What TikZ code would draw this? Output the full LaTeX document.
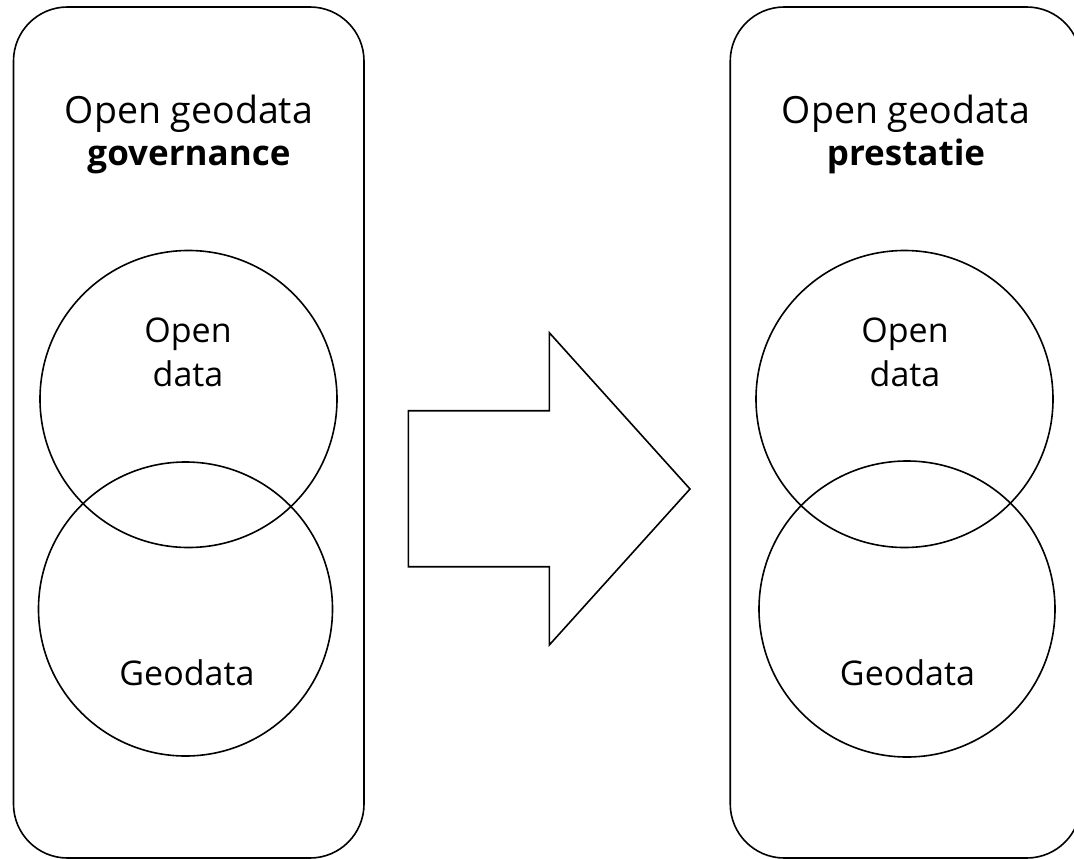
\documentclass[tikz,border=0pt]{standalone}
\usepackage{fontspec}
\setmainfont{Open Sans}
\begin{document}
\begin{tikzpicture}[x=1pt,y=-1pt,
  panel/.style={draw=black, line width=1.6pt, rounded corners=54pt, minimum width=350.5pt, minimum height=851pt, inner sep=0pt},
  ring/.style={draw=black, line width=1.6pt, circle, minimum size=297pt, inner sep=0pt},
  headtext/.style={align=center, inner sep=0pt, anchor=base, font=\fontsize{37.5}{42}\selectfont},
  boldword/.style={},
  ringtext/.style={align=center, inner sep=0pt, anchor=base, font=\fontsize{34}{44}\selectfont},
  bigarrow/.style={draw=black, line width=1.6pt, line join=miter}
]
\clip (0,0) rectangle (1074,859);
% panels
\node[panel] (leftpanel) at (188.75,432.5) {};
\node[panel] (rightpanel) at (905.5,432.5) {};
% circles
\node[ring] (lopen) at (188.5,399) {};
\node[ring, minimum size=294pt] (lgeo) at (185.5,609) {};
\node[ring] (ropen) at (904.5,399) {};
\node[ring, minimum size=296pt] (rgeo) at (907,609) {};
% headings (anchor = baseline of last line)
\node[headtext] (lhead) at (189,165) {Open geodata\\{\fontsize{35}{42}\selectfont\bfseries governance}};
\node[headtext] (rhead) at (906,165) {Open geodata\\{\fontsize{35}{42}\selectfont\bfseries prestatie}};
% circle texts
\node[ringtext] (lopentext) at (188,386) {Open\\data};
\node[ringtext] (lgeotext) at (187,685) {Geodata};
\node[ringtext] (ropentext) at (905,386) {Open\\data};
\node[ringtext] (rgeotext) at (907.5,685) {Geodata};
% block arrow
\draw[bigarrow] (408.3,410.7) -- (549.3,410.7) -- (549.3,332.7) -- (690,489)
  -- (549.3,645) -- (549.3,566.7) -- (408.3,566.7) -- cycle;
\end{tikzpicture}
\end{document}
